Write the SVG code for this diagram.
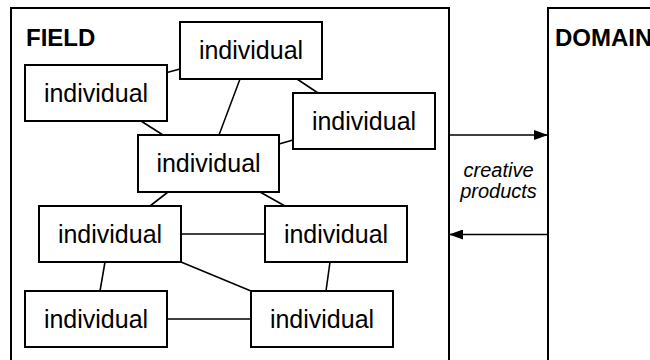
<svg xmlns="http://www.w3.org/2000/svg" width="650" height="360" viewBox="0 0 650 360">
<style>
.box{fill:#fff;stroke:#000;stroke-width:2}
.frame{fill:none;stroke:#000;stroke-width:2}
.t{font-family:"Liberation Sans",Arial,sans-serif;font-size:25px;text-anchor:middle;fill:#000}
.title{font-family:"Liberation Sans",Arial,sans-serif;font-size:24px;font-weight:bold;fill:#000}
.lbl{font-family:"Liberation Sans",Arial,sans-serif;font-size:20px;font-style:italic;text-anchor:middle;fill:#000}
.c{stroke:#000;stroke-width:1.6;fill:none}
</style>
<defs>
<marker id="ah" markerWidth="14" markerHeight="10" refX="14" refY="5" orient="auto" markerUnits="userSpaceOnUse">
<path d="M0,0 L14,5 L0,10 Z" fill="#000"/>
</marker>
</defs>
<g id="field">
<rect class="frame" x="11" y="8" width="438" height="370"/>
<text class="title" x="26" y="46">FIELD</text>
</g>
<g id="domain">
<rect class="frame" x="548" y="8" width="130" height="370"/>
<text class="title" x="555" y="46">DOMAIN</text>
</g>
<g id="connectors">
<line class="c" x1="167" y1="72.5" x2="180" y2="69"/>
<line class="c" x1="297" y1="79" x2="318" y2="93"/>
<line class="c" x1="240" y1="79" x2="219" y2="135"/>
<line class="c" x1="141" y1="121" x2="163" y2="135"/>
<line class="c" x1="279" y1="144" x2="293" y2="140"/>
<line class="c" x1="168" y1="192" x2="150" y2="206"/>
<line class="c" x1="260" y1="192" x2="285" y2="206"/>
<line class="c" x1="181" y1="234" x2="265" y2="234"/>
<line class="c" x1="105" y1="262" x2="100" y2="291"/>
<line class="c" x1="181" y1="262" x2="251" y2="291"/>
<line class="c" x1="330" y1="262" x2="326" y2="291"/>
<line class="c" x1="167" y1="319" x2="251" y2="319"/>
<line class="c" x1="449" y1="135" x2="548" y2="135" marker-end="url(#ah)"/>
<line class="c" x1="548" y1="234.5" x2="449" y2="234.5" marker-end="url(#ah)"/>
</g>
<g id="lbl-creative">
<text class="lbl" x="498.5" y="177">creative</text>
<text class="lbl" x="498.5" y="197.5">products</text>
</g>
<g id="n1"><rect class="box" x="180" y="22" width="142" height="57"/><text class="t" x="251" y="59">individual</text></g>
<g id="n2"><rect class="box" x="25" y="65" width="142" height="56"/><text class="t" x="96" y="101.5">individual</text></g>
<g id="n3"><rect class="box" x="293" y="93" width="142" height="56"/><text class="t" x="364" y="129.5">individual</text></g>
<g id="n4"><rect class="box" x="138" y="135" width="141" height="57"/><text class="t" x="208.5" y="172">individual</text></g>
<g id="n5"><rect class="box" x="39" y="206" width="142" height="56"/><text class="t" x="110" y="242.5">individual</text></g>
<g id="n6"><rect class="box" x="265" y="206" width="142" height="56"/><text class="t" x="336" y="242.5">individual</text></g>
<g id="n7"><rect class="box" x="25" y="291" width="142" height="56"/><text class="t" x="96" y="327.5">individual</text></g>
<g id="n8"><rect class="box" x="251" y="291" width="142" height="56"/><text class="t" x="322" y="327.5">individual</text></g>
</svg>
